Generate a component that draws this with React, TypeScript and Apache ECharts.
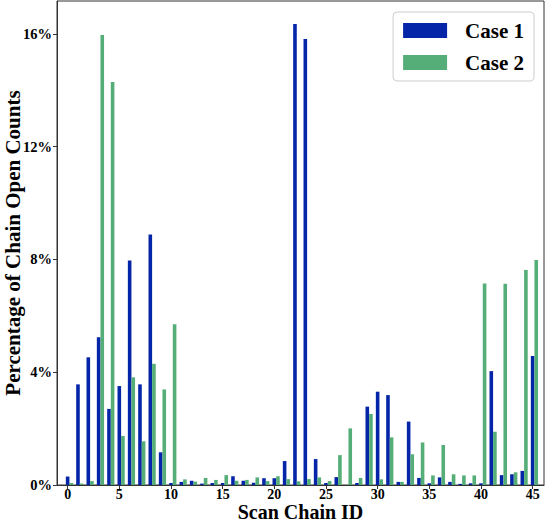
import React, { useEffect, useRef } from "react";
import * as echarts from "echarts";

const scanIds = Array.from({ length: 46 }, (_, i) => i);
const case1 = [0.30, 3.57, 4.53, 5.24, 2.70, 3.51, 7.96, 3.57, 8.89, 1.16, 0.07, 0.11, 0.15, 0.05, 0.07, 0.07, 0.31, 0.15, 0.08, 0.24, 0.24, 0.85, 16.35, 15.82, 0.92, 0.07, 0.28, 0.0, 0.07, 2.78, 3.31, 3.19, 0.11, 2.25, 0.25, 0.06, 0.27, 0.11, 0.04, 0.06, 0.06, 4.04, 0.35, 0.38, 0.50, 4.58];
const case2 = [0.07, 0.05, 0.14, 15.96, 14.30, 1.74, 3.82, 1.55, 4.30, 3.39, 5.70, 0.20, 0.12, 0.25, 0.18, 0.35, 0.15, 0.18, 0.27, 0.14, 0.31, 0.21, 0.13, 0.21, 0.27, 0.14, 1.06, 2.01, 0.25, 2.52, 0.20, 1.69, 0.11, 1.09, 1.51, 0.34, 1.42, 0.38, 0.34, 0.34, 7.15, 1.89, 7.14, 0.45, 7.63, 7.98];
const xTicks = [0, 5, 10, 15, 20, 25, 30, 35, 40, 45];
const seriesNames = ["Case 1", "Case 2"];
const barOffset = 0.35;

const FONT = "'Liberation Serif', 'DejaVu Serif', serif";

export default function App() {
  const ref = useRef<HTMLDivElement>(null);
  useEffect(() => {
    if (!ref.current) return;
    const chart = echarts.init(ref.current, null, { renderer: "svg" });
    chart.setOption({
      animation: false,
      grid: {
        left: 57,
        right: 2,
        top: 1,
        bottom: 37,
        containLabel: false,
        outerBoundsMode: "none",
        show: true,
        borderColor: "#333",
        borderWidth: 1,
      },
      legend: {
        orient: "vertical",
        right: 12,
        top: 12,
        data: seriesNames,
        icon: "rect",
        itemWidth: 44,
        itemHeight: 15,
        itemGap: 11,
        padding: [8, 10, 8, 10],
        borderColor: "#ccc",
        borderWidth: 1,
        borderRadius: 4,
        backgroundColor: "rgba(255,255,255,0.8)",
        textStyle: {
          fontFamily: FONT,
          fontWeight: "bold",
          fontSize: 21,
          color: "#000",
          lineHeight: 20,
          padding: [0, 0, 0, 13],
        },
      },
      xAxis: {
        type: "value",
        min: -1.03,
        max: 46.1,
        name: "Scan Chain ID",
        nameLocation: "middle",
        nameMoveOverlap: false,
        nameGap: 18,
        nameTextStyle: { fontFamily: FONT, fontWeight: "bold", fontSize: 20, lineHeight: 17, color: "#000" },
        splitLine: { show: false },
        axisLine: { show: true, onZero: false, lineStyle: { color: "#333" } },
        axisTick: { show: true, length: 4, customValues: xTicks, lineStyle: { color: "#333" } },
        axisLabel: {
          customValues: xTicks,
          fontFamily: FONT,
          fontWeight: "bold",
          fontSize: 14,
          lineHeight: 13,
          color: "#000",
          margin: 3,
        },
      },
      yAxis: {
        type: "value",
        min: 0,
        max: 17.17,
        interval: 4,
        name: "Percentage of Chain Open Counts",
        nameLocation: "middle",
        nameMoveOverlap: false,
        nameGap: 34,
        nameTextStyle: { fontFamily: FONT, fontWeight: "bold", fontSize: 21, color: "#000" },
        splitLine: { show: false },
        axisLine: { show: true, onZero: false, lineStyle: { color: "#333" } },
        axisTick: { show: true, length: 4, lineStyle: { color: "#333" } },
        axisLabel: {
          showMaxLabel: false,
          fontFamily: FONT,
          fontWeight: "bold",
          fontSize: 14.5,
          color: "#000",
          margin: 5,
          formatter: (v: number) => (Math.abs(v % 4) < 1e-6 ? `${v}%` : ""),
        },
      },
      series: [
        {
          name: seriesNames[0],
          type: "bar",
          barWidth: 3.6,
          barGap: "-100%",
          itemStyle: { color: "#0525a8" },
          data: scanIds.map((x, i) => [x, case1[i]]),
        },
        {
          name: seriesNames[1],
          type: "bar",
          barWidth: 3.6,
          barGap: "-100%",
          itemStyle: { color: "#55ae77" },
          data: scanIds.map((x, i) => [x + barOffset, case2[i]]),
        },
      ],
    });
    return () => chart.dispose();
  }, []);
  return <div ref={ref} style={{ width: 546, height: 522, position: "absolute", left: 0, top: 0 }} />;
}
